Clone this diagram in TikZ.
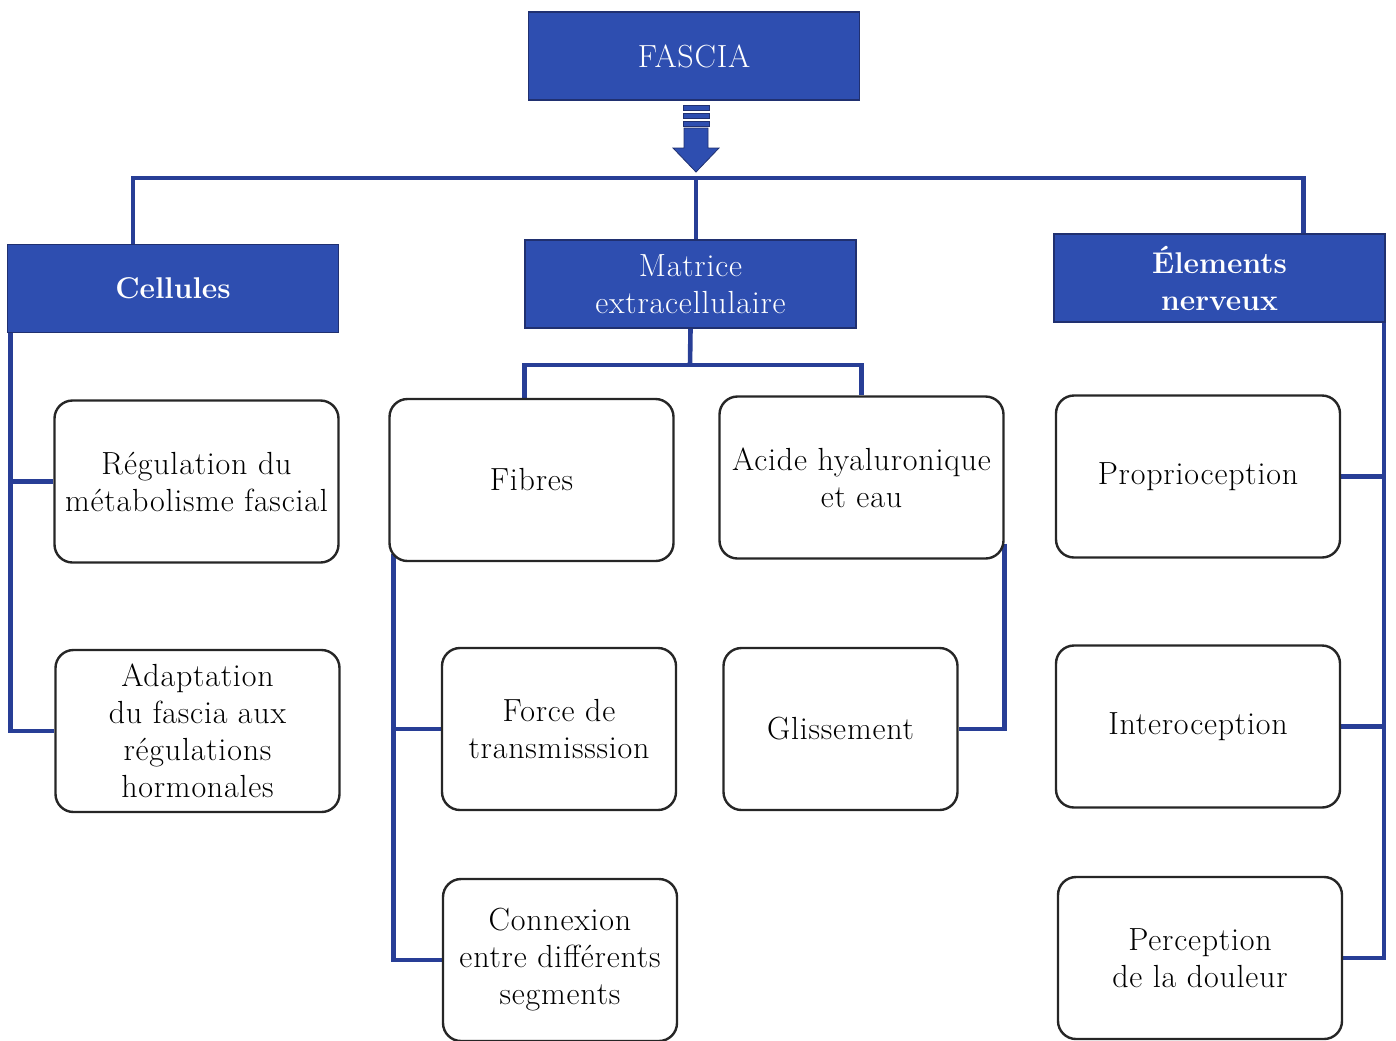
\documentclass[tikz,border=0pt]{standalone}
\usepackage{fontspec}
\setmainfont{Latin Modern Roman}[LetterSpace=2.5]
\usepackage{tikz}
\usetikzlibrary{calc, backgrounds}
\definecolor{hdrblue}{RGB}{46,78,176}
\definecolor{hdredge}{RGB}{32,48,112}
\definecolor{linkblue}{RGB}{40,62,150}

\begin{document}
\begin{tikzpicture}[x=0.5pt, y=-0.5pt,
    every node/.style={font=\fontsize{16}{18.5}\selectfont, align=center},
    hdr/.style={draw=hdredge, fill=hdrblue, line width=0.8pt, text=white,
      minimum width=165.5pt, minimum height=44pt, inner sep=0pt},
    hdrbf/.style={hdr, font=\fontsize{15}{18.5}\selectfont\bfseries\addfontfeatures{LetterSpace=0}},
    item/.style={draw=black!85, fill=white, line width=1.2pt, rounded corners=9pt,
      minimum width=142pt, minimum height=81pt, inner sep=0pt},
    itemsm/.style={item, minimum width=117pt},
    link/.style={draw=linkblue, line width=2.3pt}
  ]
  \useasboundingbox (0,0) rectangle (1396,1040);

  % headers
  \node[hdr] (fascia) at (694,56) {FASCIA};
  \node[hdrbf] (cel) at (173,288.5) {Cellules};
  \node[hdr] (mat) at (690.5,284) {Matrice\\extracellulaire};
  \node[hdrbf] (elem) at (1219.5,278) {\'Elements\\nerveux};

  % arrow under FASCIA
  \foreach \y in {105,113,121}
    \filldraw[fill=hdrblue, draw=hdredge, line width=0.4pt] (683,\y) rectangle (709,\y+5);
  \filldraw[fill=hdrblue, draw=hdredge, line width=0.4pt]
    (684,128) -- (708,128) -- (708,148) -- (719,148) -- (696,172)
    -- (673,148) -- (684,148) -- cycle;
  \coordinate (hub) at (696,178);

  % items
  \node[item] (reg)   at (196.5,481.5) {R\'egulation du\\m\'etabolisme fascial};
  \node[item] (adap)  at (197.5,731)   {Adaptation\\du fascia aux\\r\'egulations\\hormonales};
  \node[item] (fib)   at (531.5,480)   {Fibres};
  \node[item] (acide) at (861.5,477.5) {Acide hyaluronique\\et eau};
  \node[itemsm] (force) at (559,729)   {Force de\\transmisssion};
  \node[itemsm] (glis)  at (840.5,729) {Glissement};
  \node[itemsm] (conn)  at (560,960)   {Connexion\\entre diff\'erents\\segments};
  \node[item] (prop)  at (1198,476.5)  {Proprioception};
  \node[item] (inter) at (1198,726.5)  {Interoception};
  \node[item] (perc)  at (1200,958)    {Perception\\de la douleur};

  \begin{scope}[on background layer]
  % main bus
  \draw[link] ([xshift=-20pt]cel.north) |- (hub) -| ([xshift=42pt]elem.north);
  \draw[link] (hub) -- (hub |- mat.north);

  % cellules
  \draw[link] ([xshift=2pt]cel.south west) |- (reg.west);
  \draw[link] ([xshift=2pt]cel.south west) |- (adap.west);

  % matrice
  \coordinate (mfork) at (690,365);
  \draw[link] (mat.south) -- (mfork);
  \draw[link] ([xshift=-3.5pt]fib.north) |- (mfork) -| (acide.north);
  \draw[link] ([xshift=2.5pt,yshift=4pt]fib.south west) |- (force.west);
  \draw[link] ([xshift=2.5pt,yshift=4pt]fib.south west) |- (conn.west);
  \draw[link] ([yshift=8pt]acide.south east) |- (glis.east);

  % elements nerveux
  \draw[link] ([xshift=-1pt]elem.south east) |- (prop.east);
  \draw[link] ([xshift=-1pt]elem.south east) |- (inter.east);
  \draw[link] ([xshift=-1pt]elem.south east) |- (perc.east);
  \end{scope}
\end{tikzpicture}
\end{document}
